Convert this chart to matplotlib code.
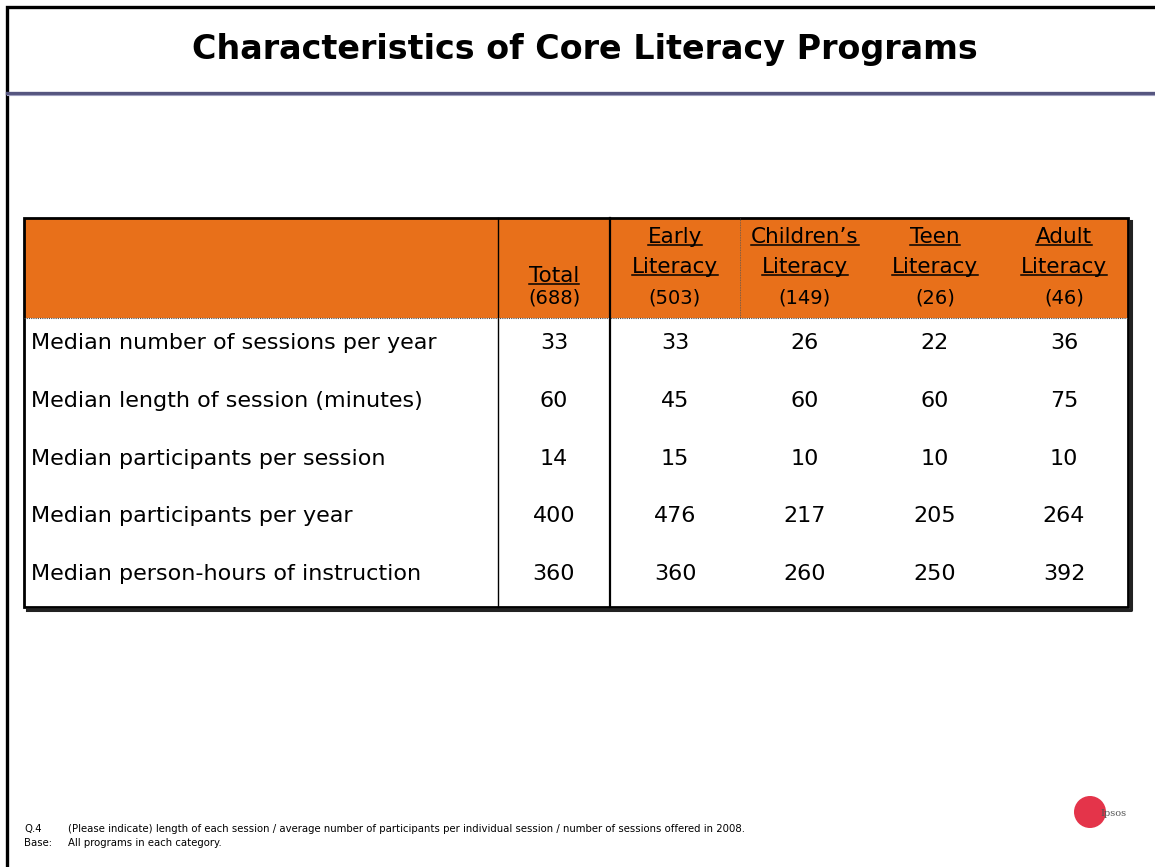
import matplotlib.pyplot as plt
from matplotlib.patches import Rectangle, Circle

title = 'Characteristics of Core Literacy Programs'
col_names = [['Total'], ['Early', 'Literacy'], ['Children\u2019s', 'Literacy'],
             ['Teen', 'Literacy'], ['Adult', 'Literacy']]
col_bases = ['(688)', '(503)', '(149)', '(26)', '(46)']
row_labels = ['Median number of sessions per year',
              'Median length of session (minutes)',
              'Median participants per session',
              'Median participants per year',
              'Median person-hours of instruction']
values = [
    [33, 33, 26, 22, 36],
    [60, 45, 60, 60, 75],
    [14, 15, 10, 10, 10],
    [400, 476, 217, 205, 264],
    [360, 360, 260, 250, 392],
]
foot_q = ['Q.4', 'Base:']
foot_txt = ['(Please indicate) length of each session / average number of participants '
            'per individual session / number of sessions offered in 2008.',
            'All programs in each category.']

W, H = 1155, 867
fig = plt.figure(figsize=(W / 100, H / 100), dpi=100)
ax = fig.add_axes([0, 0, 1, 1])
ax.set_xlim(0, W)
ax.set_ylim(H, 0)
ax.axis('off')
plt.rcParams['font.family'] = ['DejaVu Sans']

# frame + title band
ax.plot([7, 7, W], [H, 7, 7], color='black', lw=2.4, solid_joinstyle='miter')
ax.plot([7, W], [92.5, 92.5], color='#55557f', lw=2.4)
ax.plot([7, W], [95, 95], color='#a0a0c0', lw=0.8)
ax.text(585, 50, title, ha='center', va='center', fontsize=24,
        fontweight='bold', color='black')

# table geometry
left, right = 24, 1128
top, head_bot = 218, 318
edges = [498, 610, 740, 870, 1000, right]
centers = [(edges[i] + edges[i + 1]) / 2 for i in range(5)]
centers[0] = 554
row_h = (607 - head_bot) / len(row_labels)

ax.add_patch(Rectangle((left, top), right - left, head_bot - top,
                       facecolor='#e8701a', edgecolor='none'))
ax.plot([left, right], [head_bot, head_bot], color='#444444', lw=0.8, ls=(0, (1, 1)))
ax.plot([edges[2], edges[2]], [top, head_bot], color='#555555', lw=0.6, ls=(0, (1, 1)))
ax.plot([edges[0], edges[0]], [top, 607], color='black', lw=1.0)
ax.plot([edges[1], edges[1]], [top, 607], color='black', lw=1.6)
# shadowed outer border
ax.plot([left + 3, right + 3, right + 3], [610, 610, top + 3], color='#222222', lw=2.2)
ax.add_patch(Rectangle((left, top), right - left, 607 - top, fill=False,
                       edgecolor='black', lw=2.0))

fig.canvas.draw()
rend = fig.canvas.get_renderer()
inv = ax.transData.inverted()


def underline(t):
    bb = t.get_window_extent(rend)
    (x0, y0), (x1, y1) = inv.transform([[bb.x0, bb.y0], [bb.x1, bb.y1]])
    ax.plot([x0, x1], [y0 - 2, y0 - 2], color='black', lw=1.1)


for i, names in enumerate(col_names):
    cx = centers[i]
    ys = [237, 267] if len(names) == 2 else [276]
    for name, y in zip(names, ys):
        t = ax.text(cx, y, name, ha='center', va='center', fontsize=15.5)
        underline(t)
    ax.text(cx, 298, col_bases[i], ha='center', va='center', fontsize=14)

for r, lab in enumerate(row_labels):
    y = head_bot + 25 + r * row_h
    ax.text(31, y, lab, ha='left', va='center', fontsize=16)
    for c, v in enumerate(values[r]):
        ax.text(centers[c], y, str(v), ha='center', va='center', fontsize=16)

# footnote
for k in range(2):
    ax.text(24, 829 + k * 14, foot_q[k], ha='left', va='center', fontsize=7.3)
    ax.text(68, 829 + k * 14, foot_txt[k], ha='left', va='center', fontsize=7.3)

# logo
ax.add_patch(Circle((1090, 812), 16, facecolor='#e0102a', edgecolor='none', alpha=0.85))
ax.text(1100, 813, 'Ipsos', fontsize=7, color='#555555', ha='left', va='center',
        family='DejaVu Serif')

fig.savefig('out.png', dpi=100)
